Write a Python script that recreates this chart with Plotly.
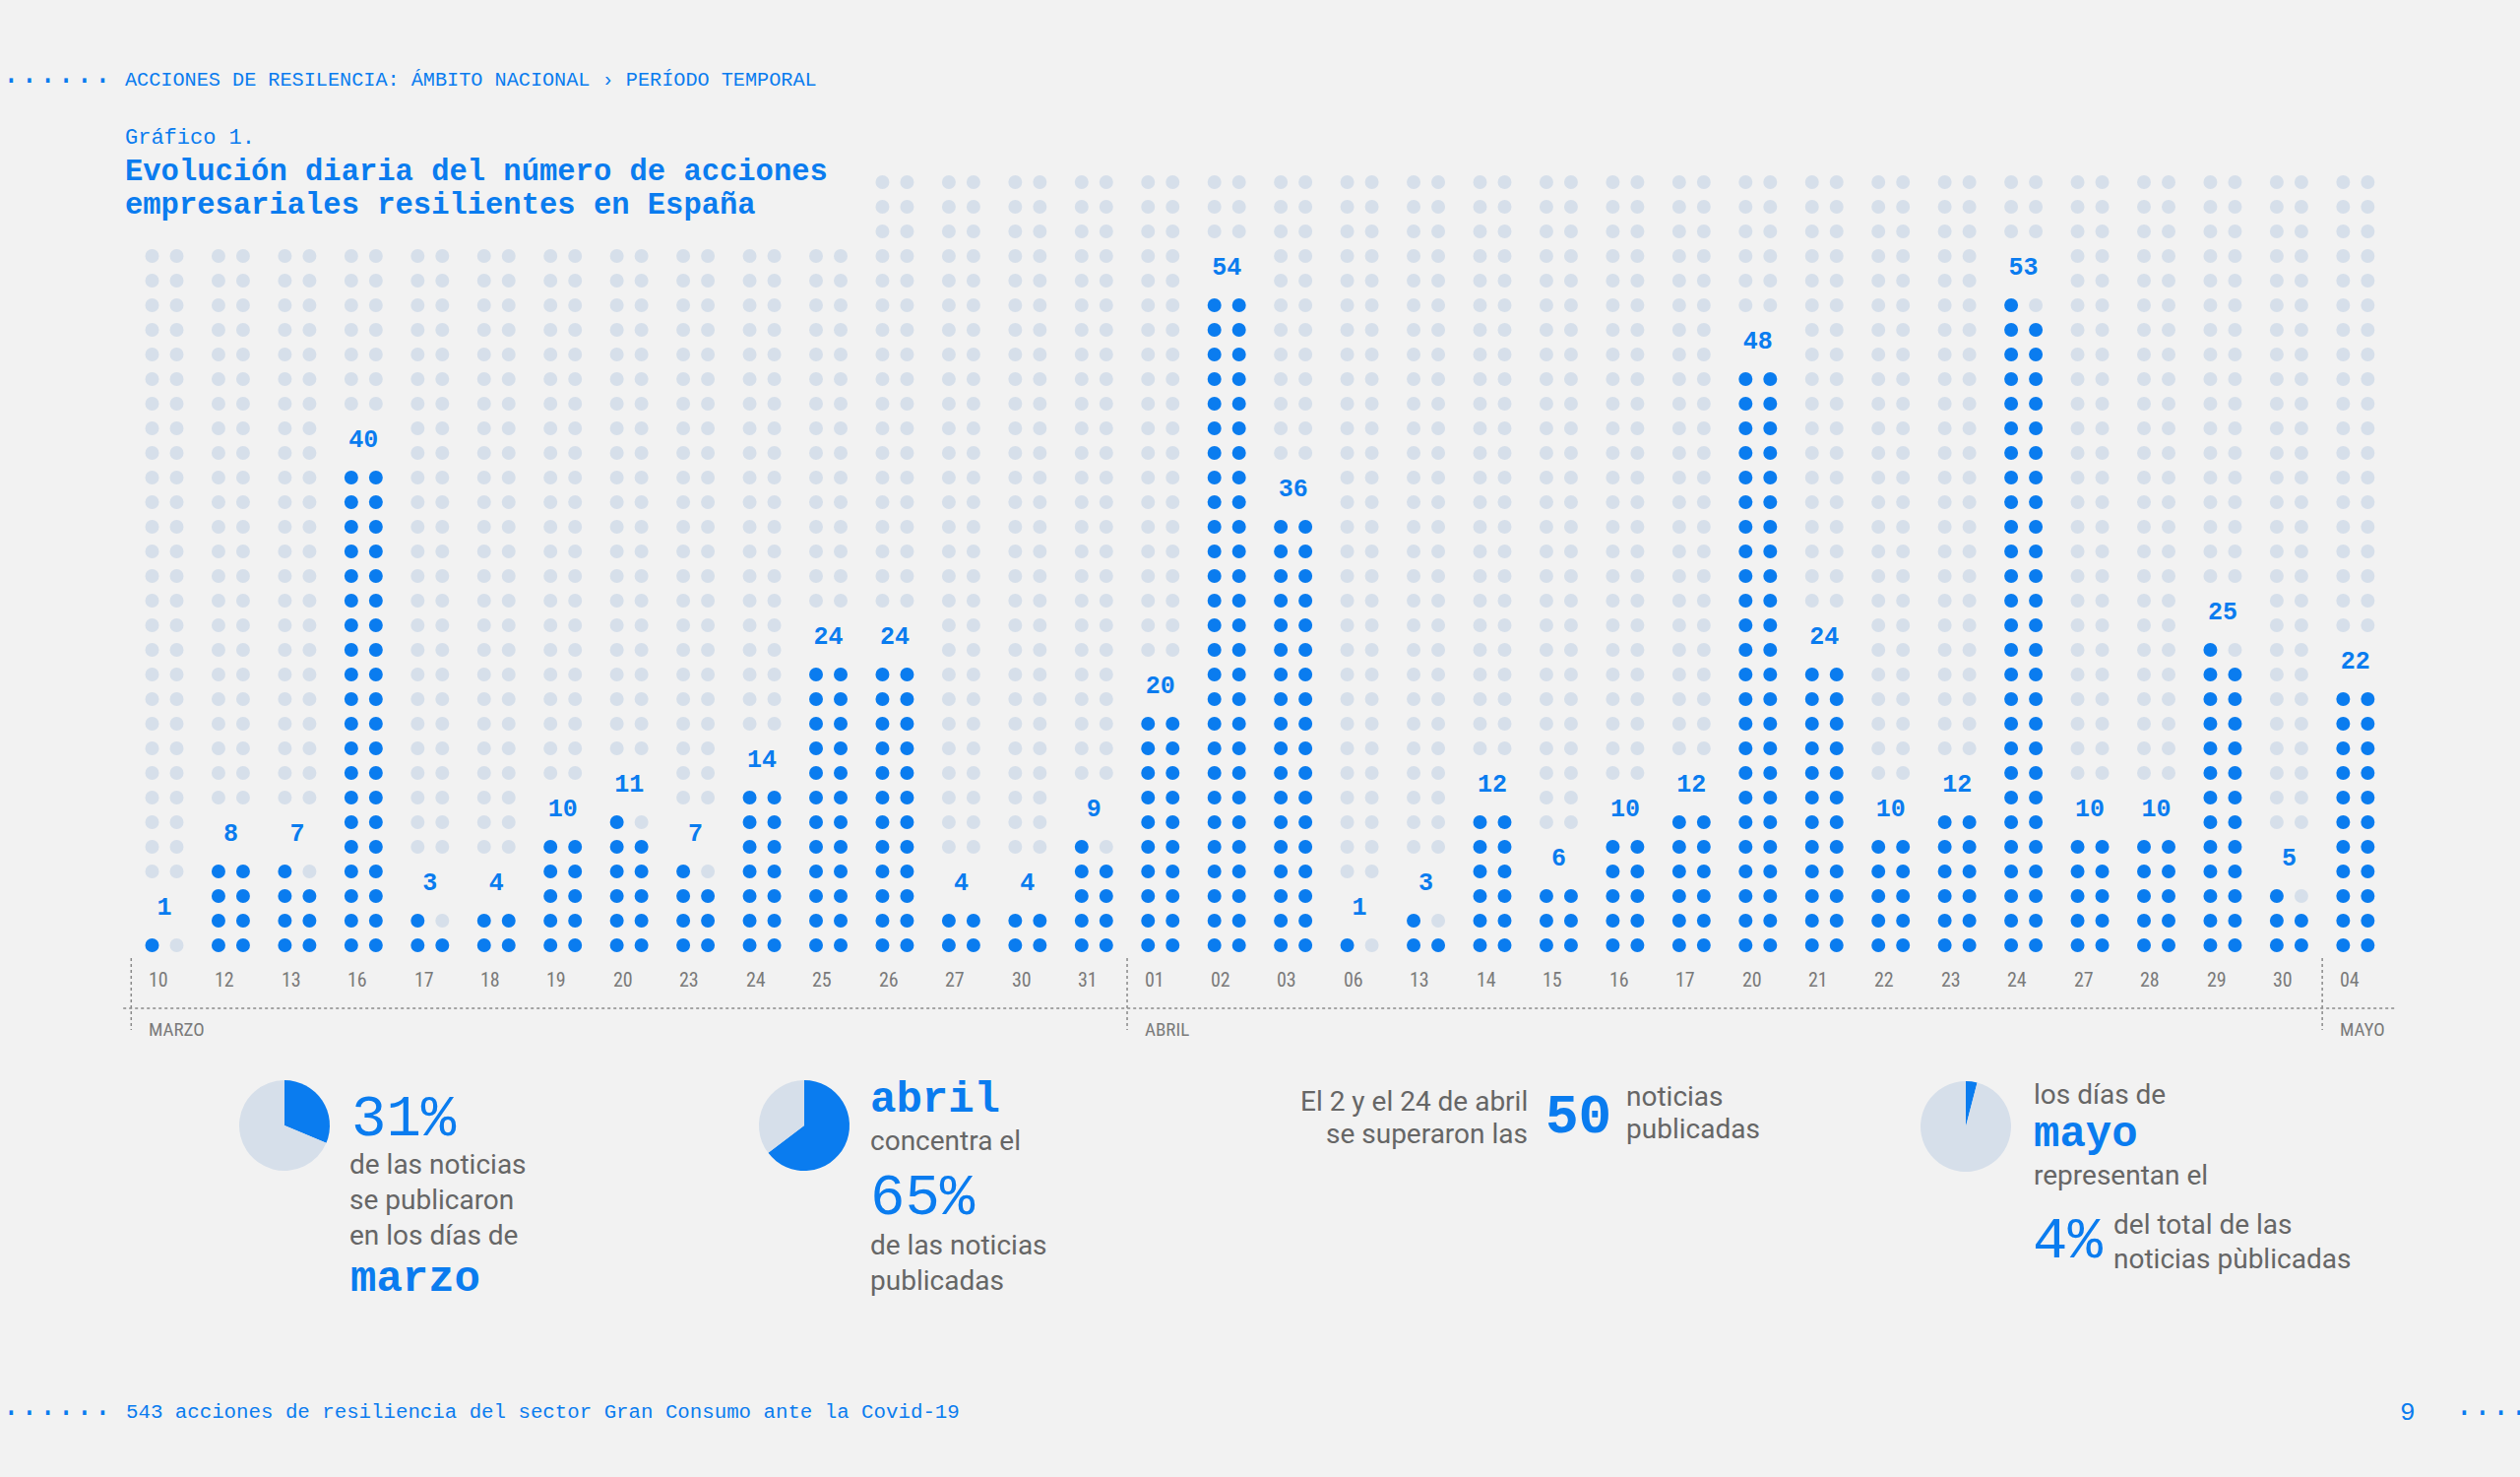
import math
import plotly.graph_objects as go

# ---------------- data ----------------
days = ["10", "12", "13", "16", "17", "18", "19", "20", "23", "24", "25", "26", "27", "30", "31",
        "01", "02", "03", "06", "13", "14", "15", "16", "17", "20", "21", "22", "23", "24", "27", "28", "29", "30",
        "04"]
months = ["MARZO"] * 15 + ["ABRIL"] * 18 + ["MAYO"]
values = [1, 8, 7, 40, 3, 4, 10, 11, 7, 14, 24, 24, 4, 4, 9,
          20, 54, 36, 1, 3, 12, 6, 10, 12, 48, 24, 10, 12, 53, 10, 10, 25, 5,
          22]
grid_rows = [29] * 11 + [32] * 23   # background dot grid height per column

header_text = "ACCIONES DE RESILENCIA: ÁMBITO NACIONAL › PERÍODO TEMPORAL"
chart_label = "Gráfico 1."
title_lines = ["Evolución diaria del número de acciones", "empresariales resilientes en España"]
footer_text = "543 acciones de resiliencia del sector Gran Consumo ante la Covid-19"
page_number = "9"

# ---------------- style ----------------
W, H = 2560, 1500
BG = "#f2f2f2"
BLUE = "#0a7cef"
GREY_DOT = "#d6dfea"
TXT_GREY = "#666666"
AX_GREY = "#7a7a7a"
MONO = "Liberation Mono, DejaVu Sans Mono, monospace"
SANS = "Roboto, Liberation Sans, sans-serif"
NARROW = "Liberation Sans Narrow, Roboto Condensed, Roboto, sans-serif"
SANS_SIZE = 28

X0, DXCOL = 167.0, 67.45      # pixel x of first column centre, column spacing
Y0, DYROW = 960.0, 25.0       # pixel y of first dot row, row spacing
PAIR = 12.5 / DXCOL           # half distance between the two dots of a column


def px2x(p):
    return (p - X0) / DXCOL


def py2y(p):
    return 1 + (Y0 - p) / DYROW


def paper(px, py):
    return px / W, 1 - py / H


# ---------------- dots ----------------
gx, gy, bx, by = [], [], [], []
lx, ly, lt = [], [], []
for i, v in enumerate(values):
    top = math.ceil(v / 2)
    for r in range(1, grid_rows[i] + 1):
        for side, dx in ((0, -PAIR), (1, PAIR)):
            k = (r - 1) * 2 + side + 1
            if k <= v:
                bx.append(i + dx); by.append(r)
            elif r in (top + 1, top + 2):
                continue
            else:
                gx.append(i + dx); gy.append(r)
    lx.append(i); ly.append(top + 1.5); lt.append(str(v))

fig = go.Figure()
fig.add_trace(go.Scatter(x=gx, y=gy, mode="markers", hoverinfo="skip",
                         marker=dict(size=14, color=GREY_DOT, line=dict(width=0))))
fig.add_trace(go.Scatter(x=bx, y=by, mode="markers", hoverinfo="skip",
                         marker=dict(size=14, color=BLUE, line=dict(width=0))))
fig.add_trace(go.Scatter(x=lx, y=ly, mode="text", text=lt, hoverinfo="skip",
                         textposition="middle center",
                         textfont=dict(family=MONO, size=25, color=BLUE, weight="bold")))

annotations = []
shapes = []

# tick labels (day numbers)
for i, d in enumerate(days):
    annotations.append(dict(x=i - 0.27, y=py2y(995), xref="x", yref="y", text=d, showarrow=False,
                            xanchor="left", yanchor="middle",
                            font=dict(family=NARROW, size=20, color=AX_GREY)))

# month separators + labels
starts = [i for i in range(len(months)) if i == 0 or months[i] != months[i - 1]]
for s in starts:
    shapes.append(dict(type="line", xref="x", yref="y", x0=s - 0.5, x1=s - 0.5,
                       y0=py2y(973), y1=py2y(1046),
                       line=dict(color="#8a8a8a", width=1.5, dash="dot")))
    annotations.append(dict(x=s - 0.27, y=py2y(1045), xref="x", yref="y", text=months[s],
                            showarrow=False, xanchor="left", yanchor="middle",
                            font=dict(family=NARROW, size=19, color=AX_GREY)))
shapes.append(dict(type="line", xref="x", yref="y", x0=-0.62, x1=len(values) - 1 + 0.6,
                   y0=py2y(1024), y1=py2y(1024),
                   line=dict(color="#8a8a8a", width=1.5, dash="dot")))


def txt(px, py, text, size, color, family, xanchor="left", bold=False):
    x, y = paper(px, py)
    annotations.append(dict(x=x, y=y, xref="paper", yref="paper", text=text, showarrow=False,
                            xanchor=xanchor, yanchor="middle",
                            font=dict(family=family, size=size, color=color,
                                      weight="bold" if bold else "normal")))


# header / title
txt(0, 75, "......", 31, BLUE, MONO)
txt(125, 82, header_text, 20.2, BLUE, MONO)
txt(125, 140, chart_label, 22, BLUE, MONO)
txt(125, 175, title_lines[0], 30.5, BLUE, MONO, bold=True)
txt(125, 209, title_lines[1], 30.5, BLUE, MONO, bold=True)

# footer
txt(0, 1428, "......", 31, BLUE, MONO)
txt(126, 1434, footer_text, 20.75, BLUE, MONO)
txt(2446, 1435, page_number, 26, BLUE, MONO, xanchor="center")
txt(2492, 1428, "....", 31, BLUE, MONO)

# ---------------- month shares (pies) ----------------
total = sum(values)
share = {}
for m in ["MARZO", "ABRIL", "MAYO"]:
    share[m] = sum(v for v, mm in zip(values, months) if mm == m) / total


def pie(cx, cy, r, frac):
    fig.add_trace(go.Pie(values=[frac, 1 - frac], sort=False, direction="clockwise", rotation=0,
                         marker=dict(colors=[BLUE, GREY_DOT], line=dict(width=0)),
                         textinfo="none", hoverinfo="skip", showlegend=False,
                         domain=dict(x=[(cx - r) / W, (cx + r) / W],
                                     y=[1 - (cy + r) / H, 1 - (cy - r) / H])))


pie(289, 1143, 46, share["MARZO"])
pie(817, 1143, 46, share["ABRIL"])
pie(1997, 1144, 46, share["MAYO"])

pct = {m: f"{round(share[m] * 100)}%" for m in share}

# panel 1
txt(355, 1137, pct["MARZO"], 59, BLUE, MONO)
txt(353, 1182, "de las noticias", SANS_SIZE, TXT_GREY, SANS)
txt(353, 1218, "se publicaron", SANS_SIZE, TXT_GREY, SANS)
txt(353, 1254, "en los días de", SANS_SIZE, TXT_GREY, SANS)
txt(354, 1299, "marzo", 44, BLUE, MONO, bold=True)

# panel 2
txt(882, 1117, "abril", 44, BLUE, MONO, bold=True)
txt(882, 1158, "concentra el", SANS_SIZE, TXT_GREY, SANS)
txt(882, 1217, pct["ABRIL"], 59, BLUE, MONO)
txt(882, 1264, "de las noticias", SANS_SIZE, TXT_GREY, SANS)
txt(882, 1300, "publicadas", SANS_SIZE, TXT_GREY, SANS)

# panel 3
txt(1554, 1118, "El 2 y el 24 de abril", SANS_SIZE, TXT_GREY, SANS, xanchor="right")
txt(1554, 1151, "se superaron las", SANS_SIZE, TXT_GREY, SANS, xanchor="right")
txt(1568, 1135, "50", 56, BLUE, MONO, bold=True)
txt(1650, 1113, "noticias", SANS_SIZE, TXT_GREY, SANS)
txt(1650, 1146, "publicadas", SANS_SIZE, TXT_GREY, SANS)

# panel 4
txt(2064, 1111, "los días de", SANS_SIZE, TXT_GREY, SANS)
txt(2064, 1152, "mayo", 44, BLUE, MONO, bold=True)
txt(2064, 1193, "representan el", SANS_SIZE, TXT_GREY, SANS)
txt(2063, 1261, pct["MAYO"], 59, BLUE, MONO)
txt(2145, 1243, "del total de las", SANS_SIZE, TXT_GREY, SANS)
txt(2145, 1278, "noticias pùblicadas", SANS_SIZE, TXT_GREY, SANS)

fig.update_layout(
    width=W, height=H, autosize=False,
    margin=dict(l=0, r=0, t=0, b=0, pad=0),
    paper_bgcolor=BG, plot_bgcolor=BG,
    showlegend=False,
    xaxis=dict(range=[px2x(0), px2x(W)], visible=False, fixedrange=True),
    yaxis=dict(range=[py2y(H), py2y(0)], visible=False, fixedrange=True),
    annotations=annotations,
    shapes=shapes,
)

fig.write_html(
    "out.html",
    config={"displayModeBar": False},
    post_script="document.body.style.margin='0';document.body.style.overflow='hidden';"
                "document.body.style.background='" + BG + "';",
)
